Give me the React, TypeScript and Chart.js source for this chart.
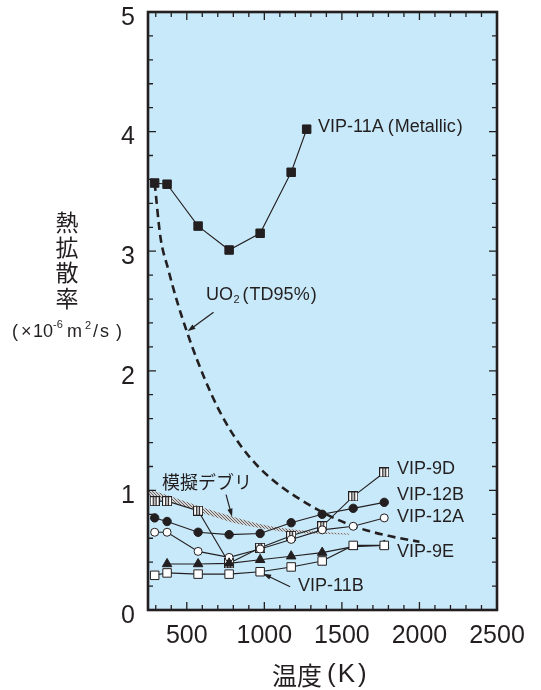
import React, { useEffect, useRef } from "react";
import { Chart, registerables } from "chart.js";

Chart.register(...registerables);

const INK = "#231f20";
const PLOT_BG = "#c8e9f9";
const LATIN = '"Liberation Sans", Arial, sans-serif';
const CJK = '"Noto Sans CJK JP", sans-serif';

// ---- data (temperature in K, thermal diffusivity in 1e-6 m2/s) ----
const T_COMMON = [293, 373, 573, 773, 973, 1173, 1373, 1573, 1773];
const T_11A = [293, 373, 573, 773, 973, 1173, 1273];
const VIP_11A = [3.57, 3.56, 3.21, 3.01, 3.15, 3.66, 4.02];
const VIP_9D = [0.91, 0.91, 0.83, 0.39, 0.52, 0.62, 0.7, 0.95, 1.15];
const VIP_12B = [0.77, 0.74, 0.65, 0.63, 0.64, 0.73, 0.8, 0.85, 0.9];
const VIP_12A = [0.65, 0.65, 0.49, 0.44, 0.51, 0.59, 0.67, 0.7, 0.77];
const T_9E = [373, 573, 773, 973, 1173, 1373, 1573, 1773];
const VIP_9E = [0.385, 0.385, 0.39, 0.42, 0.45, 0.48, 0.53, 0.54];
const VIP_11B = [0.29, 0.31, 0.3, 0.3, 0.32, 0.36, 0.41, 0.54, 0.54];
const T_UO2 = [293, 330, 380, 440, 500, 570, 660, 750, 850, 960, 1100, 1200, 1400, 1600, 1800, 2000];
const UO2 = [3.57, 3.12, 2.85, 2.57, 2.33, 2.08, 1.8, 1.57, 1.37, 1.2, 1.04, 0.95, 0.8, 0.69, 0.62, 0.57];
const T_DEBRIS = [250, 400, 600, 800, 1000, 1200, 1400, 1550];
const DEBRIS_UPPER = [1.01, 0.95, 0.86, 0.78, 0.71, 0.67, 0.65, 0.64];
const DEBRIS_LOWER = [0.95, 0.9, 0.81, 0.73, 0.68, 0.645, 0.635, 0.63];

const X_MIN = 250;
const X_MAX = 2500;
const Y_MIN = 0;
const Y_MAX = 5;
const X_TICKS = [500, 1000, 1500, 2000, 2500];
const Y_TICKS = [0, 1, 2, 3, 4, 5];
const X_MINOR_STEP = 100;
const X_MAJOR_STEP = 500;
const Y_MINOR_STEP = 0.2;
const Y_MINOR_PER_MAJOR = 5;

const pts = (xs: number[], ys: number[]) => xs.map((x, i) => ({ x, y: ys[i] }));

function makeBarredSquare() {
  const c = document.createElement("canvas");
  c.width = 10;
  c.height = 10;
  const g = c.getContext("2d")!;
  g.fillStyle = "#ffffff";
  g.fillRect(0, 0, 10, 10);
  g.strokeStyle = INK;
  g.lineWidth = 1;
  g.strokeRect(0.5, 0.5, 9, 9);
  g.fillStyle = INK;
  g.fillRect(3, 1, 1.3, 8);
  g.fillRect(5.7, 1, 1.3, 8);
  return c;
}

function makeStipple(ctx: CanvasRenderingContext2D) {
  const c = document.createElement("canvas");
  c.width = 3;
  c.height = 3;
  const g = c.getContext("2d")!;
  g.fillStyle = "rgba(210,210,210,0.95)";
  g.fillRect(0, 0, 3, 3);
  g.fillStyle = "rgba(95,95,95,0.95)";
  g.fillRect(0, 0, 1, 1);
  g.fillRect(1, 1, 1, 1);
  g.fillRect(2, 2, 1, 1);
  return ctx.createPattern(c, "repeat");
}

function arrow(ctx: CanvasRenderingContext2D, x1: number, y1: number, x2: number, y2: number) {
  const ang = Math.atan2(y2 - y1, x2 - x1);
  const hl = 8;
  const hw = 2.6;
  ctx.beginPath();
  ctx.moveTo(x1, y1);
  ctx.lineTo(x2 - Math.cos(ang) * hl * 0.8, y2 - Math.sin(ang) * hl * 0.8);
  ctx.lineWidth = 1.2;
  ctx.strokeStyle = INK;
  ctx.stroke();
  ctx.beginPath();
  ctx.moveTo(x2, y2);
  ctx.lineTo(x2 - Math.cos(ang) * hl - Math.sin(ang) * hw, y2 - Math.sin(ang) * hl + Math.cos(ang) * hw);
  ctx.lineTo(x2 - Math.cos(ang) * hl + Math.sin(ang) * hw, y2 - Math.sin(ang) * hl - Math.cos(ang) * hw);
  ctx.closePath();
  ctx.fillStyle = INK;
  ctx.fill();
}

function txt(ctx: CanvasRenderingContext2D, s: string, x: number, y: number, font: string, align: CanvasTextAlign = "left") {
  ctx.font = font;
  ctx.textAlign = align;
  ctx.fillText(s, x, y);
}

// run of text pieces: [text, font, gapAfter, dy]
function run(ctx: CanvasRenderingContext2D, x: number, y: number, parts: [string, string, number, number?][]) {
  let cx = x;
  ctx.textAlign = "left";
  for (const [s, f, gap, dy] of parts) {
    ctx.font = f;
    ctx.fillText(s, cx, y + (dy || 0));
    cx += ctx.measureText(s).width + gap;
  }
}

const framePlugin = {
  id: "frameAndNotes",
  beforeDraw(chart: any) {
    const { ctx, chartArea: a } = chart;
    ctx.save();
    ctx.fillStyle = PLOT_BG;
    ctx.fillRect(a.left, a.top, a.right - a.left, a.bottom - a.top);
    ctx.restore();
  },
  afterDraw(chart: any) {
    const { ctx, chartArea: a } = chart;
    const xs = chart.scales.x;
    const ys = chart.scales.y;
    ctx.save();
    // inward ticks
    ctx.strokeStyle = INK;
    ctx.lineWidth = 1.3;
    ctx.beginPath();
    for (let k = Math.ceil(X_MIN / X_MINOR_STEP) * X_MINOR_STEP; k < X_MAX; k += X_MINOR_STEP) {
      const len = k % X_MAJOR_STEP === 0 ? 8 : 5;
      const px = xs.getPixelForValue(k);
      ctx.moveTo(px, a.bottom);
      ctx.lineTo(px, a.bottom - len);
      ctx.moveTo(px, a.top);
      ctx.lineTo(px, a.top + len);
    }
    const nY = Math.round((Y_MAX - Y_MIN) / Y_MINOR_STEP);
    for (let i = 1; i < nY; i++) {
      const v = Y_MIN + i * Y_MINOR_STEP;
      const len = i % Y_MINOR_PER_MAJOR === 0 ? 8 : 5;
      const py = ys.getPixelForValue(v);
      ctx.moveTo(a.left, py);
      ctx.lineTo(a.left + len, py);
      ctx.moveTo(a.right, py);
      ctx.lineTo(a.right - len, py);
    }
    ctx.stroke();
    // frame
    ctx.lineWidth = 2.6;
    ctx.strokeRect(a.left, a.top, a.right - a.left, a.bottom - a.top);

    // texts
    ctx.fillStyle = INK;
    ctx.textBaseline = "middle";
    const L18 = `18px ${LATIN}`;
    run(ctx, 318, 127, [
      ["VIP-11A", L18, 4],
      ["(", L18, 1],
      ["Metallic", L18, 1],
      [")", L18, 0],
    ]);
    txt(ctx, "VIP-9D", 397, 469, L18);
    txt(ctx, "VIP-12B", 397, 495, L18);
    txt(ctx, "VIP-12A", 397, 517, L18);
    txt(ctx, "VIP-9E", 397, 552, L18);
    txt(ctx, "VIP-11B", 298, 586, L18);
    txt(ctx, "模擬デブリ", 162, 482, `18px ${CJK}`);
    run(ctx, 206, 295, [
      ["UO", L18, 0.5],
      ["2", `11px ${LATIN}`, 3, 5],
      ["(", L18, 1],
      ["TD95%", L18, 1],
      [")", L18, 0],
    ]);

    // arrows
    {
      const tx = xs.getPixelForValue(505);
      const ty = ys.getPixelForValue(2.33);
      arrow(ctx, tx + 26, ty - 19, tx, ty);
    }
    {
      const tx = xs.getPixelForValue(792);
      const ty = ys.getPixelForValue(0.78);
      arrow(ctx, tx - 6, ty - 22, tx, ty);
    }
    {
      const tx = xs.getPixelForValue(973) + 3;
      const ty = ys.getPixelForValue(0.32) + 2;
      arrow(ctx, tx + 27, ty + 13, tx, ty);
    }

    // y-axis title
    const yc = ["熱", "拡", "散", "率"];
    const yy = [222, 247, 272, 298];
    yc.forEach((c, i) => txt(ctx, c, 67, yy[i], `23px ${CJK}`, "center"));
    ctx.textBaseline = "alphabetic";
    const L18u = `18px ${LATIN}`;
    const S11 = `11px ${LATIN}`;
    txt(ctx, "(", 12, 337, L18u);
    txt(ctx, "×", 21, 337, L18u);
    txt(ctx, "10", 33, 337, L18u);
    txt(ctx, "-6", 53, 328, S11);
    txt(ctx, "m", 67, 337, L18u);
    txt(ctx, "2", 85, 329, S11);
    txt(ctx, "/", 93, 337, L18u);
    txt(ctx, "s", 100, 337, L18u);
    txt(ctx, ")", 116, 337, L18u);

    // x-axis title
    ctx.textBaseline = "middle";
    run(ctx, 272, 675, [
      ["温度", `25px ${CJK}`, 5],
      ["(", `26px ${LATIN}`, 2],
      ["K", `26px ${LATIN}`, 3],
      [")", `26px ${LATIN}`, 0],
    ]);
    ctx.restore();
  },
};

export default function App() {
  const ref = useRef<HTMLCanvasElement>(null);
  useEffect(() => {
    const canvas = ref.current!;
    const ctx = canvas.getContext("2d")!;
    const stipple = makeStipple(ctx);
    const barred = makeBarredSquare();
    const series = (label: string, data: any[], style: any, radius: number, fillCol: string) => ({
      label,
      data,
      borderColor: INK,
      borderWidth: 1.1,
      pointStyle: style,
      pointRadius: radius,
      pointHoverRadius: radius,
      pointBackgroundColor: fillCol,
      pointBorderColor: INK,
      pointBorderWidth: 1,
      tension: 0,
      fill: false,
      order: 1,
    });
    const chart = new Chart(canvas, {
      type: "line",
      data: {
        datasets: [
          {
            label: "debris-upper",
            data: pts(T_DEBRIS, DEBRIS_UPPER),
            borderWidth: 0,
            borderColor: "rgba(0,0,0,0)",
            pointRadius: 0,
            fill: false,
            cubicInterpolationMode: "monotone",
            order: 10,
          },
          {
            label: "debris-lower",
            data: pts(T_DEBRIS, DEBRIS_LOWER),
            borderWidth: 0,
            borderColor: "rgba(0,0,0,0)",
            backgroundColor: stipple as any,
            pointRadius: 0,
            fill: 0,
            cubicInterpolationMode: "monotone",
            order: 10,
          },
          {
            label: "UO2",
            data: pts(T_UO2, UO2),
            borderColor: INK,
            borderWidth: 2.6,
            borderDash: [8, 5],
            pointRadius: 0,
            fill: false,
            cubicInterpolationMode: "monotone",
            order: 5,
          },
          series("VIP-11B", pts(T_COMMON, VIP_11B), "rect", 6, "#ffffff"),
          series("VIP-9E", pts(T_9E, VIP_9E), "triangle", 5.5, INK),
          series("VIP-12A", pts(T_COMMON, VIP_12A), "circle", 4, "#ffffff"),
          series("VIP-12B", pts(T_COMMON, VIP_12B), "circle", 4.2, INK),
          series("VIP-9D", pts(T_COMMON, VIP_9D), barred, 5, "#ffffff"),
          series("VIP-11A", pts(T_11A, VIP_11A), "rect", 6, INK),
        ] as any,
      },
      options: {
        responsive: false,
        animation: false,
        events: [],
        layout: { padding: { left: 0, top: 12, right: 44, bottom: 0 } },
        plugins: { legend: { display: false }, tooltip: { enabled: false } },
        scales: {
          x: {
            type: "linear",
            min: X_MIN,
            max: X_MAX,
            grid: { display: false, drawTicks: false },
            border: { display: false },
            afterBuildTicks: (s: any) => {
              s.ticks = X_TICKS.map((v) => ({ value: v }));
            },
            afterFit: (s: any) => {
              s.height = 80;
              s.paddingLeft = 0;
              s.paddingRight = 0;
            },
            ticks: {
              color: INK,
              padding: 11,
              maxRotation: 0,
              autoSkip: false,
              font: { family: "Liberation Sans", size: 25 },
              callback: (v: any) => String(v),
            },
          },
          y: {
            type: "linear",
            min: Y_MIN,
            max: Y_MAX,
            grid: { display: false, drawTicks: false },
            border: { display: false },
            afterBuildTicks: (s: any) => {
              s.ticks = Y_TICKS.map((v) => ({ value: v }));
            },
            afterFit: (s: any) => {
              s.width = 148;
              s.paddingTop = 0;
              s.paddingBottom = 0;
            },
            ticks: {
              color: INK,
              padding: 13,
              labelOffset: 6,
              autoSkip: false,
              font: { family: "Liberation Sans", size: 25 },
              callback: (v: any) => String(v),
            },
          },
        },
      } as any,
      plugins: [framePlugin],
    });
    return () => chart.destroy();
  }, []);
  return (
    <div style={{ position: "absolute", left: 0, top: 0, width: 541, height: 690, background: "#ffffff" }}>
      <canvas ref={ref} width={541} height={690} style={{ width: 541, height: 690, display: "block" }} />
    </div>
  );
}
